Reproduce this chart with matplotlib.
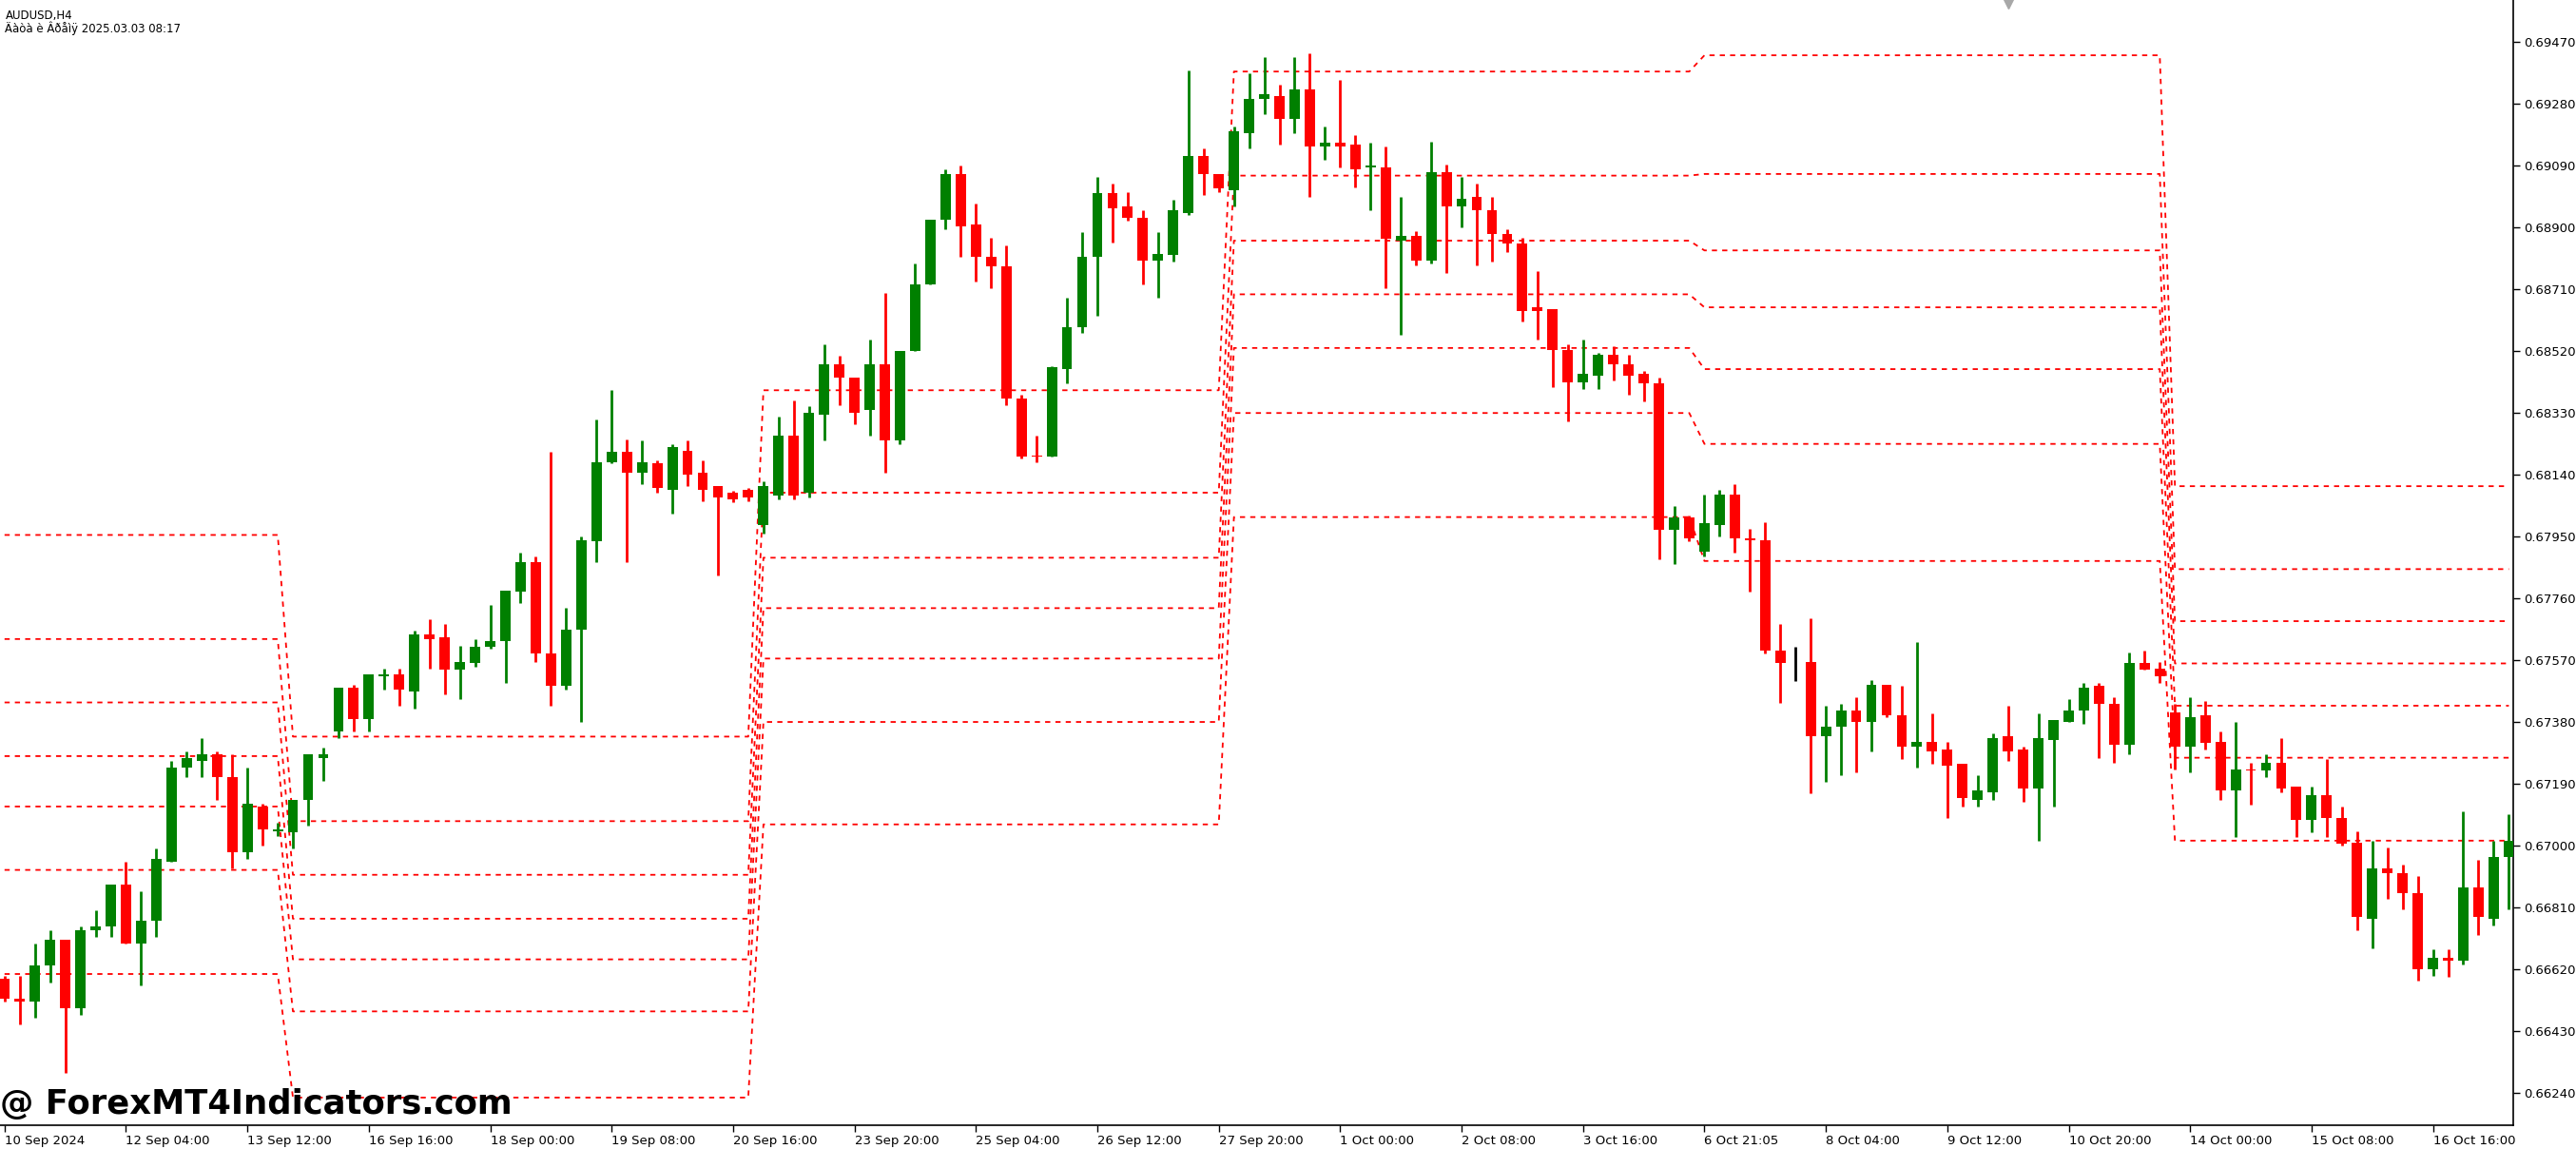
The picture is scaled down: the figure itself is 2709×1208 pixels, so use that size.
import numpy as np
import matplotlib
matplotlib.use("Agg")
import matplotlib.pyplot as plt

# Prices in points (price * 10000), AUDUSD H4
open_pts = [6659,6653,6652,6663,6671,6650,6674,6675,6688,6670,6677,6695,6724,6726,6728,6721,6698,6712,6704.5,6704,
 6714,6727,6735,6748.5,6739,6752,6752.5,6747.5,6765,6764,6754,6756,6761,6763,6778,6787,6759,6749,6766.5,6793.5,
 6818,6821,6814.5,6817.5,6809.5,6821.5,6814.5,6810.5,6808.5,6809.5,6798.5,6807.5,6826,6808.5,6832.5,6848,6844,6834,6848,6824.5,
 6852,6872.5,6892.5,6906.5,6891,6881,6878,6837.5,6820,6819.5,6846.5,6859.5,6881,6900.5,6896.5,6893,6880,6881.5,6894.5,6912,
 6906.5,6901.5,6919,6929.5,6930.5,6923.5,6932.5,6915,6916,6915.5,6908.5,6908.5,6886,6887.5,6880,6907,6896.5,6899.5,6895.5,6888,
 6885,6865.5,6865,6852.5,6842.5,6844.5,6851,6848,6845,6842,6797,6801,6790.5,6798.5,6808,6794.5,6794,6760,6756,6756.5,
 6733.5,6736.5,6741.5,6738,6749.5,6740,6730.5,6732,6729.5,6725,6714,6716.5,6733.5,6729.5,6717.5,6732.5,6738,6741.5,6749,6743.5,
 6731,6756,6754.5,6741,6730.5,6740,6732,6717,6723.5,6723,6725.5,6718,6708,6715.5,6708.5,6701,6677.5,6693,6691.5,6685.5,
 6662,6665.5,6664.5,6687,6677.5,6696.5]
high_pts = [6660,6660,6670,6674,6671,6675,6680,6688,6695,6686,6699,6726,6729,6733,6729,6728,6724,6713,6707,6714,
 6728,6730,6748.5,6749.5,6752.5,6754.5,6754.5,6766,6769.5,6768,6761.5,6763.5,6774,6778.5,6790,6789,6821,6773,6795,6831,
 6840,6825,6824.5,6818.5,6823.5,6824.5,6818.5,6810.5,6809,6810,6812,6832,6837,6835,6854,6850.5,6844,6855.5,6870,6852,
 6879,6892.5,6908,6909,6897.5,6887,6884.5,6838.5,6826,6847.5,6868.5,6888.5,6905.5,6903.5,6901,6895.5,6888.5,6898.5,6938.5,6914.5,
 6906.5,6921,6937.5,6942.5,6934,6942.5,6943.5,6921,6935.5,6918.5,6916,6915,6899.5,6889,6916.5,6909.5,6905.5,6903.5,6899.5,6889.5,
 6887,6876.5,6865,6854,6855.5,6851.5,6853.5,6851,6846,6844,6804.5,6801.5,6808,6809.5,6811,6797.5,6799.5,6768,6761,6770,
 6743,6743.5,6745.5,6751,6749.5,6749,6762.5,6740.5,6732,6725,6721.5,6734.5,6743,6730.5,6740.5,6738.5,6745,6750,6750,6745.5,
 6759.5,6760,6756.5,6743.5,6745.5,6744.5,6735,6738,6725.5,6728,6733,6718,6718,6726.5,6712,6704.5,6701.5,6699.5,6694,6690.5,
 6668,6668,6710.5,6695.5,6701.5,6709.5]
low_pts = [6652,6645,6647,6658,6630,6648,6672,6672,6670,6657,6672,6695,6721,6721,6714,6693,6696,6700,6703,6699,
 6706,6720,6733,6735,6735,6748,6743,6742,6754.5,6746.5,6745,6755,6760.5,6750,6774.5,6756.5,6743,6748,6738,6787,
 6817.5,6787,6811,6808.5,6802,6810.5,6806,6783,6805.5,6806,6796,6806.5,6806.5,6807,6824.5,6835.5,6829.5,6826,6814.5,6823.5,
 6852,6872.5,6889.5,6881,6873.5,6871.5,6835.5,6819,6818,6819.5,6842,6857.5,6863,6885.5,6892,6872.5,6868.5,6879.5,6894,6900,
 6901,6896.5,6914.5,6925,6915.5,6919,6899.5,6911,6908.5,6902.5,6895.5,6871.5,6857,6878.5,6879,6876,6890,6878.5,6879.5,6882.5,
 6861,6855.5,6841,6830.5,6840.5,6840.5,6843,6838.5,6836.5,6788,6786.5,6793.5,6789,6795,6790,6778,6759,6744,6750.5,6716,
 6719.5,6721.5,6722.5,6729,6739.5,6726.5,6724,6725,6708.5,6712,6712,6714,6726,6713.5,6701.5,6712,6738,6737.5,6727,6725.5,
 6728,6754,6750,6723.5,6722.5,6729.5,6714,6702.5,6712.5,6721,6716.5,6702.5,6704,6702.5,6700,6674,6668.5,6683.5,6680.5,6658.5,
 6660,6659.5,6663.5,6672.5,6675.5,6680.5]
close_pts = [6653,6652,6663,6671,6650,6674,6675,6688,6670,6677,6696,6724,6727,6728,6721,6698,6713,6705,6705,6714,
 6728,6728,6748.5,6739,6752.5,6752.5,6748,6765,6763.5,6754,6756.5,6761,6763,6778.5,6787,6759,6749,6766.5,6794,6818,
 6821,6814.5,6818,6810,6822.5,6814,6809.5,6807,6806.5,6807,6810.5,6826,6807.5,6833,6848,6844,6833,6848,6824.5,6852,
 6872.5,6892.5,6906.5,6890.5,6881,6878,6837.5,6819.5,6819.5,6847,6859.5,6881,6900.5,6896,6893,6880,6882,6895.5,6912,6906.5,
 6902,6919.5,6929.5,6931,6923.5,6932.5,6915,6916,6915,6908,6909,6886.5,6887.5,6880,6907,6896.5,6899,6895.5,6888,6885,
 6864.5,6864.5,6852.5,6842.5,6845,6851,6848,6844.5,6842,6797,6801,6794.5,6799,6808,6794.5,6794,6760,6756,6756,6733.5,
 6736.5,6741.5,6738,6749.5,6740,6730.5,6732,6729,6724.5,6714.5,6717,6733,6729,6717.5,6733,6738.5,6741.5,6748.5,6743.5,6731,
 6756,6754,6752,6730.5,6739.5,6731.5,6717,6723.5,6723,6725.5,6717.5,6708,6715.5,6708.5,6700.5,6678,6693,6691.5,6685.5,6662,
 6665.5,6664.5,6687,6678,6696.5,6701.5]

date_labels = ["10 Sep 2024","12 Sep 04:00","13 Sep 12:00","16 Sep 16:00","18 Sep 00:00","19 Sep 08:00",
 "20 Sep 16:00","23 Sep 20:00","25 Sep 04:00","26 Sep 12:00","27 Sep 20:00","1 Oct 00:00","2 Oct 08:00",
 "3 Oct 16:00","6 Oct 21:05","8 Oct 04:00","9 Oct 12:00","10 Oct 20:00","14 Oct 00:00","15 Oct 08:00","16 Oct 16:00"]
price_ticks = [0.69470,0.69280,0.69090,0.68900,0.68710,0.68520,0.68330,0.68140,0.67950,0.67760,
 0.67570,0.67380,0.67190,0.67000,0.66810,0.66620,0.66430,0.66240]

# indicator level segments: (first bar, last bar, seven levels in points)
seg_bars = [(0,18),(19,49),(50,80),(81,111),(112,142),(143,165)]
seg_levels = [
 [6795.5,6763.5,6744,6727.5,6712,6692.5,6660.5],
 [6733.5,6707.5,6691,6677.5,6665,6649,6622.5],
 [6840,6808.5,6788.5,6773,6757.5,6738,6706.5],
 [6938,6906,6886,6869.5,6853,6833,6801],
 [6943,6906.5,6883,6865.5,6846.5,6823.5,6787.5],
 [6810.5,6785,6769,6756,6743,6727,6701.5],
]

O = np.array(open_pts)/1e4; H = np.array(high_pts)/1e4
L = np.array(low_pts)/1e4; C = np.array(close_pts)/1e4
n = len(O); x = np.arange(n)

fig = plt.figure(figsize=(27.09,12.08), dpi=100)
ax = fig.add_axes([0.0, 0.0207, 0.9757, 0.9793])

GREEN, RED = "#008000", "#FF0000"
cols = [GREEN if c >= o else RED for o, c in zip(O, C)]
cols[118] = "black"
ax.vlines(x, L, H, colors=cols, linewidth=2, zorder=3)
body_b = np.minimum(O, C); body_h = np.abs(C - O)
ax.bar(x, np.maximum(body_h, 0.00002), bottom=body_b, width=0.68, color=cols, linewidth=0, zorder=4)

# indicator levels
for k in range(7):
    xs, ys = [], []
    for (a, b), lev in zip(seg_bars, seg_levels):
        xs += [a, b]; ys += [lev[k]/1e4, lev[k]/1e4]
    ax.plot(xs, ys, color=RED, linewidth=1.3, linestyle=(0,(3,3)), zorder=2)

ax.set_xlim(-0.3, 165.3)
ax.set_ylim(0.66140, 0.69600)
for s in ["top","left"]:
    ax.spines[s].set_visible(False)
ax.spines["right"].set_linewidth(1.2); ax.spines["bottom"].set_linewidth(1.2)
ax.yaxis.tick_right()
ax.set_yticks(price_ticks)
ax.set_yticklabels([f"{p:.5f}" for p in price_ticks], fontsize=9.5)
ax.tick_params(axis="y", length=5, width=1, pad=3)
ax.set_xticks(np.arange(0, 161, 8))
ax.set_xticklabels(date_labels, fontsize=9.5, ha="left")
ax.tick_params(axis="x", length=5, width=1, pad=2)

fig.text(0.002, 0.992, "AUDUSD,H4", fontsize=8.5, va="top", ha="left")
fig.text(0.002, 0.981, "Äàòà è Âðåìÿ 2025.03.03 08:17", fontsize=8.5, va="top", ha="left")
fig.text(0.0, 0.039, "@ ForexMT4Indicators.com", fontsize=25.5, fontweight="bold", va="center", ha="left")
ax.plot([0.799], [0.998], marker="v", color="#a8a8a8", markersize=10, transform=ax.transAxes, clip_on=False)

fig.savefig("out.png", dpi=100)
